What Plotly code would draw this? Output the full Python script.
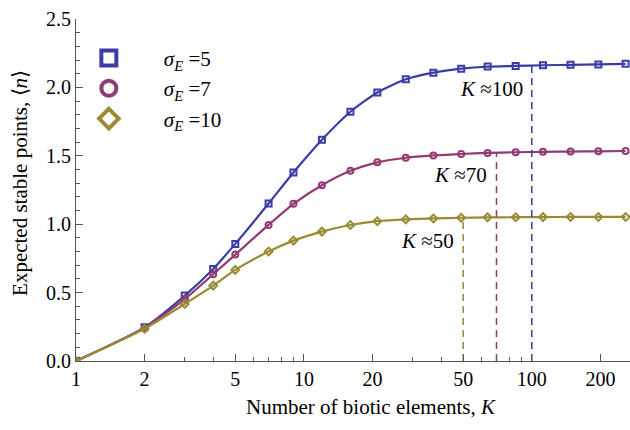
import numpy as np
import plotly.graph_objects as go

K = [1, 2, 3, 4, 5, 7, 9, 12, 16, 21, 28, 37, 49, 64, 85, 112, 148, 196, 258]
n_sigma5 = [0, 0.246, 0.478, 0.673, 0.856, 1.151, 1.378, 1.617, 1.822, 1.963, 2.059, 2.108,
            2.137, 2.152, 2.157, 2.162, 2.165, 2.168, 2.172]
n_sigma7 = [0, 0.242, 0.453, 0.634, 0.778, 0.995, 1.149, 1.285, 1.390, 1.452, 1.486, 1.503,
            1.513, 1.521, 1.526, 1.529, 1.531, 1.533, 1.535]
n_sigma10 = [0, 0.236, 0.417, 0.551, 0.666, 0.800, 0.880, 0.946, 0.994, 1.022, 1.035, 1.042,
             1.047, 1.050, 1.051, 1.052, 1.053, 1.053, 1.053]

series_names = ["<i>σ</i><sub><i>E</i></sub> =5", "<i>σ</i><sub><i>E</i></sub> =7",
                "<i>σ</i><sub><i>E</i></sub> =10"]
series_values = [n_sigma5, n_sigma7, n_sigma10]
colors = ["#3c3ca6", "#913a74", "#9a8b33"]
symbols = ["square-open", "circle-open", "diamond-open"]

threshold_K = [100, 70, 50]
threshold_top = [2.160, 1.523, 1.047]
threshold_labels = ["<i>K</i> ≈100", "<i>K</i> ≈70", "<i>K</i> ≈50"]
label_y = [1.99, 1.36, 0.875]

x_ticks = [1, 2, 5, 10, 20, 50, 100, 200]
x_minor = [3, 4, 6, 7, 8, 9, 30, 40, 60, 70, 80, 90]

FONT = "Liberation Serif, Times New Roman, serif"

fig = go.Figure()

for name, vals, col, sym in zip(series_names, series_values, colors, symbols):
    fig.add_trace(go.Scatter(
        x=K, y=vals, mode="lines+markers", showlegend=False,
        line=dict(color=col, width=2.2, shape="spline", smoothing=0.6),
        marker=dict(symbol=sym, size=6, color=col, line=dict(color=col, width=2)),
    ))

# legend entries with large markers
for name, col, sym in zip(series_names, colors, symbols):
    fig.add_trace(go.Scatter(
        x=[None], y=[None], mode="markers", name=name,
        marker=dict(symbol=sym, size=15, color=col, line=dict(color=col, width=4)),
    ))

for k, top, col in zip(threshold_K, threshold_top, colors):
    fig.add_trace(go.Scatter(
        x=[k, k], y=[0, top], mode="lines", showlegend=False,
        line=dict(color=col, width=1.5, dash="7px,5px"),
    ))

for k, txt, ly in zip(threshold_K, threshold_labels, label_y):
    fig.add_annotation(x=np.log10(k), y=ly, text=txt, showarrow=False,
                       xanchor="right", yanchor="middle", xshift=-7,
                       font=dict(family=FONT, size=21, color="black"))

fig.add_annotation(xref="paper", yref="paper", x=0.532, y=-0.095,
                   text="Number of biotic elements, <i>K</i>", showarrow=False,
                   xanchor="center", yanchor="top",
                   font=dict(family=FONT, size=21, color="black"))
fig.add_annotation(xref="paper", yref="paper", x=-0.1015, y=0.52,
                   text="Expected stable points, ⟨<i>n</i>⟩", showarrow=False,
                   textangle=-90, xanchor="center", yanchor="middle",
                   font=dict(family=FONT, size=21, color="black"))

axis_common = dict(showgrid=False, zeroline=False, showline=True, linecolor="#555555",
                   linewidth=1, ticks="inside", tickcolor="#555555", tickwidth=1,
                   tickfont=dict(family=FONT, size=20, color="black"), mirror=False,
                   automargin=False)

fig.update_xaxes(type="log", range=[0, 2.431], tickmode="array", tickvals=x_ticks,
                 ticktext=[str(v) for v in x_ticks], ticklen=7,
                 minor=dict(tickmode="array", tickvals=x_minor, ticklen=4,
                            ticks="inside", tickcolor="#555555", showgrid=False),
                 **axis_common)
fig.update_yaxes(range=[0, 2.5], tickmode="array", tickvals=[0, 0.5, 1.0, 1.5, 2.0, 2.5],
                 ticktext=["0.0", "0.5", "1.0", "1.5", "2.0", "2.5"], ticklen=7,
                 minor=dict(dtick=0.1, ticklen=4, ticks="inside", tickcolor="#555555",
                            showgrid=False),
                 **axis_common)

fig.update_layout(
    width=630, height=430,
    margin=dict(l=76, r=0, t=19, b=69),
    plot_bgcolor="white", paper_bgcolor="white",
    legend=dict(x=-0.040, y=0.945, xanchor="left", yanchor="top",
                font=dict(family=FONT, size=21, color="black"),
                bgcolor="rgba(0,0,0,0)", itemwidth=100),
)

fig.write_html("out.html", config={"displayModeBar": False},
               post_script="document.body.style.margin='0px';document.body.style.padding='0px';")
